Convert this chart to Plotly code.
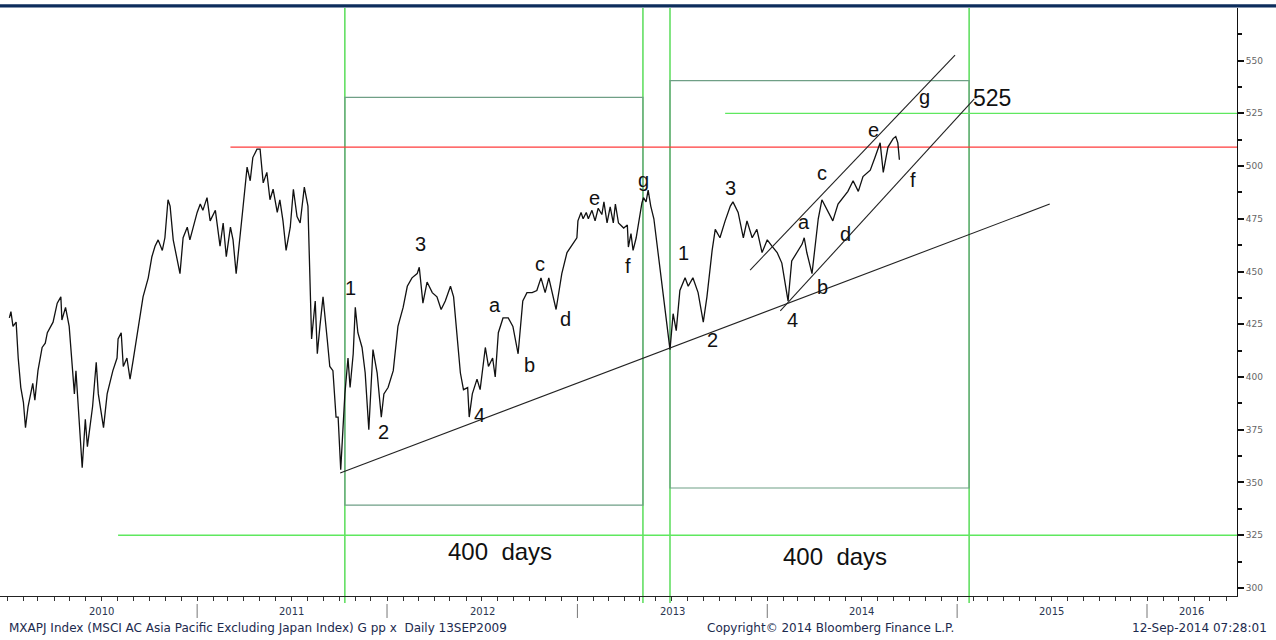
import plotly.graph_objects as go

# ---------------- data ----------------
dates_2010 = ["2010-01-05","2010-01-08","2010-01-12","2010-01-18","2010-01-22","2010-01-27","2010-02-01","2010-02-05","2010-02-10","2010-02-19",
"2010-02-23","2010-03-01","2010-03-09","2010-03-15","2010-03-19","2010-03-30","2010-04-07","2010-04-14","2010-04-16","2010-04-23",
"2010-04-30","2010-05-06","2010-05-10","2010-05-13","2010-05-17","2010-05-25","2010-05-31","2010-06-04","2010-06-14","2010-06-21",
"2010-06-25","2010-07-05","2010-07-12","2010-07-19","2010-07-23","2010-07-31","2010-08-02","2010-08-08","2010-08-12","2010-08-19",
"2010-08-25","2010-08-31","2010-09-07","2010-09-13","2010-09-19","2010-09-29","2010-10-06","2010-10-12","2010-10-18","2010-10-26",
"2010-10-31","2010-11-06","2010-11-10","2010-11-16","2010-11-23","2010-11-29","2010-12-05","2010-12-13","2010-12-18","2010-12-24"]
values_2010 = [428,431,424,426,409,395,388,376,386,397,
389,403,414,416,421,426,435,438,427,433,
424,405,392,403,389,357,380,367,386,407,
392,376,392,399,403,409,418,421,405,409,
399,408,419,430,438,447,457,462,465,460,
466,484,481,465,457,449,466,471,465,471]

dates_2011 = ["2011-01-01","2011-01-07","2011-01-12","2011-01-20","2011-01-26","2011-02-05","2011-02-14","2011-02-20","2011-02-26","2011-03-06",
"2011-03-11","2011-03-17","2011-03-23","2011-03-30","2011-04-07","2011-04-13","2011-04-18","2011-04-26","2011-05-02","2011-05-08",
"2011-05-15","2011-05-21","2011-05-27","2011-06-04","2011-06-09","2011-06-15","2011-06-21","2011-06-29","2011-07-05","2011-07-12",
"2011-07-18","2011-07-26","2011-08-02","2011-08-09","2011-08-16","2011-08-20","2011-08-25","2011-08-31","2011-09-08","2011-09-13",
"2011-09-19","2011-09-25","2011-09-29","2011-10-04","2011-10-12","2011-10-18","2011-10-22","2011-10-28","2011-11-01","2011-11-06",
"2011-11-14","2011-11-20","2011-11-27","2011-12-05","2011-12-13","2011-12-21","2011-12-26"]
values_2011 = [478,482,479,485,474,479,462,473,457,471,
465,449,462,480,499.5,493,504,508,508,492,
497,484,489,478,484,474,460,471,489,476,
473,490,481,418,436,411,424,438,418,405,
403,381,381,356,392,409,395,411,433,421,
414,402,375,413,402,381,392]

dates_2012 = ["2012-01-03","2012-01-13","2012-01-22","2012-02-01","2012-02-09","2012-02-18","2012-02-28","2012-03-03","2012-03-10","2012-03-18",
"2012-03-28","2012-04-06","2012-04-14","2012-04-22","2012-05-02","2012-05-08","2012-05-15","2012-05-21","2012-05-27","2012-06-04",
"2012-06-07","2012-06-13","2012-06-22","2012-06-28","2012-07-08","2012-07-14","2012-07-22","2012-07-27","2012-08-02","2012-08-11",
"2012-08-21","2012-08-30","2012-09-09","2012-09-18","2012-09-26","2012-10-06","2012-10-15","2012-10-23","2012-10-31","2012-11-07",
"2012-11-21","2012-12-02","2012-12-12","2012-12-22","2012-12-31"]
values_2012 = [395,403,424,433,443,447,449,452,435,445,
440,438,432,436,443,438,418,402,394,395,
381,392,399,394,414,405,409,400,421,428,
428,424,411,436,440,440,441,447,440,447,
432,449,459,463,466]

dates_2013 = ["2013-01-02","2013-01-08","2013-01-12","2013-01-18","2013-01-22","2013-01-29","2013-02-04","2013-02-10","2013-02-17","2013-02-21",
"2013-02-27","2013-03-05","2013-03-11","2013-03-15","2013-03-21","2013-03-31","2013-04-07","2013-04-09","2013-04-14","2013-04-18",
"2013-04-24","2013-04-30","2013-05-05","2013-05-08","2013-05-13","2013-05-17","2013-05-22","2013-05-28","2013-06-05","2013-06-15",
"2013-06-24","2013-06-28","2013-07-04","2013-07-10","2013-07-17","2013-07-27","2013-08-02","2013-08-11","2013-08-21","2013-08-31",
"2013-09-07","2013-09-17","2013-09-23","2013-10-02","2013-10-12","2013-10-22","2013-10-27","2013-11-06","2013-11-16","2013-11-23",
"2013-12-03","2013-12-12","2013-12-22"]
values_2013 = [474,478,475,478,475,479,474,480,477,483,
473,480.6,473,482,473,470.6,472,461.6,468,460,
466,476,482.5,485,483,488.6,481,475,459,440,
421,413,430,422,441,447,443,447,440,426,
438,460,470,466,474,481,483,478,466,474,
466,470,459]

dates_2014 = ["2014-01-01","2014-01-10","2014-01-20","2014-01-29","2014-02-06","2014-02-10","2014-02-17","2014-02-27","2014-03-09","2014-03-13",
"2014-03-18","2014-03-28","2014-04-03","2014-04-09","2014-04-16","2014-04-26","2014-05-07","2014-05-17","2014-05-27","2014-06-05",
"2014-06-15","2014-06-25","2014-07-04","2014-07-18","2014-07-27","2014-08-06","2014-08-12","2014-08-21","2014-08-31","2014-09-05",
"2014-09-09","2014-09-12"]
values_2014 = [465,462,459,454,441,436,455,459,463,466,
459,449,462,475,484,479,474,482,485,488,
493,488,495,498,504,511,497,509,513,514,
511,503]

dates = dates_2010 + dates_2011 + dates_2012 + dates_2013 + dates_2014
values = values_2010 + values_2011 + values_2012 + values_2013 + values_2014

# wave labels
wave_labels = ["1","2","3","4","a","b","c","d","e","f","g",
               "1","2","3","4","a","b","c","d","e","f","g"]
wave_dates = ["2011-10-23","2011-12-26","2012-03-06","2012-06-26","2012-07-27","2012-09-30","2012-10-21","2012-12-10","2013-02-02","2013-04-08","2013-05-09",
              "2013-07-23","2013-09-17","2013-10-23","2014-02-19","2014-03-13","2014-04-18","2014-04-16","2014-05-31","2014-07-24","2014-10-08","2014-10-31"]
wave_levels = [442,374,463,382,434,405.7,453.6,427.5,484.8,452.6,493.4,
               458.8,417.5,489.6,427,473.5,442.7,496.7,467.8,517,493.4,532.7]

# trend lines
trend_x0 = ["2011-10-03","2013-11-29","2014-01-26"]
trend_y0 = [354.5,450.7,431.3]
trend_x1 = ["2015-06-28","2014-12-28","2015-02-03"]
trend_y1 = [482.0,552.6,531.8]

# 400-day windows
cycle_start = ["2011-10-12","2013-06-28"]
cycle_end = ["2013-05-07","2015-01-24"]
box_low = [339.3,347.4]
box_high = [532.5,540.5]
cycle_text_dates = ["2012-08-05","2014-05-11"]
cycle_text_levels = [317.5,314.7]

# horizontal levels
red_level = 509
red_start = "2011-03-06"
green_levels = [525,325]
green_starts = ["2013-10-12","2010-08-02"]

year_labels = ["2010","2011","2012","2013","2014","2015","2016"]
year_label_dates = ["2010-07-02","2011-07-02","2012-07-02","2013-07-02","2014-07-02","2015-07-02","2016-03-27"]
year_starts = ["2011-01-01","2012-01-01","2013-01-01","2014-01-01","2015-01-01","2016-01-01"]

x_range = ["2009-12-18","2016-06-22"]
y_range = [296.2,574.9]
y_ticks = [300,325,350,375,400,425,450,475,500,525,550]

# ---------------- figure ----------------
fig = go.Figure()
fig.add_trace(go.Scatter(x=dates, y=values, mode="lines",
                         line=dict(color="#111111", width=1.3), hoverinfo="skip",
                         showlegend=False))

shapes = []
GREEN_V = "#2fd42f"
GREEN_H = "#5fe85f"
BOX = "#6f9f86"

shapes.append(dict(type="rect", xref="paper", yref="paper", x0=-0.01, x1=1.04, y0=1.0009, y1=1.0062,
                   fillcolor="#0d2d5c", line=dict(width=0), layer="above"))

for xs, xe, lo, hi in zip(cycle_start, cycle_end, box_low, box_high):
    shapes.append(dict(type="rect", xref="x", yref="y", x0=xs, x1=xe, y0=lo, y1=hi,
                       line=dict(color=BOX, width=1.2), layer="below"))

for d in cycle_start + cycle_end:
    shapes.append(dict(type="line", xref="x", yref="paper", x0=d, x1=d, y0=-0.012, y1=1,
                       line=dict(color=GREEN_V, width=1.2), layer="below"))

shapes.append(dict(type="line", xref="x", yref="y", x0=red_start, x1=x_range[1], y0=red_level, y1=red_level,
                   line=dict(color="#ff3b3b", width=1.2), layer="below"))
for lvl, st in zip(green_levels, green_starts):
    shapes.append(dict(type="line", xref="x", yref="y", x0=st, x1=x_range[1], y0=lvl, y1=lvl,
                       line=dict(color=GREEN_H, width=1.3), layer="below"))

for a, b, c, d in zip(trend_x0, trend_y0, trend_x1, trend_y1):
    shapes.append(dict(type="line", xref="x", yref="y", x0=a, y0=b, x1=c, y1=d,
                       line=dict(color="#222222", width=1.1)))

for d in year_starts:
    shapes.append(dict(type="line", xref="x", yref="paper", x0=d, x1=d, y0=-0.0136, y1=-0.0374,
                       line=dict(color="#777777", width=1)))

annotations = []
for t, d, v in zip(wave_labels, wave_dates, wave_levels):
    annotations.append(dict(x=d, y=v, xref="x", yref="y", text=t, showarrow=False,
                            font=dict(family="Liberation Sans, Arial", size=20, color="#111111")))
annotations.append(dict(x="2015-03-09", y=532.2, xref="x", yref="y", text="525", showarrow=False,
                        font=dict(family="Liberation Sans, Arial", size=23, color="#111111")))
for d, v in zip(cycle_text_dates, cycle_text_levels):
    annotations.append(dict(x=d, y=v, xref="x", yref="y", text="400&nbsp; days", showarrow=False,
                            font=dict(family="Liberation Sans, Arial", size=24, color="#111111")))
for t, d in zip(year_labels, year_label_dates):
    annotations.append(dict(x=d, y=-0.0272, xref="x", yref="paper", text=t, showarrow=False,
                            yanchor="middle", font=dict(family="DejaVu Sans", size=10, color="#2a3550")))

foot_font = dict(family="DejaVu Sans", size=12, color="#1c2a4e")
annotations.append(dict(x=0.006, y=-0.0544, xref="paper", yref="paper", xanchor="left", yanchor="middle",
                        text="MXAPJ Index (MSCI AC Asia Pacific Excluding Japan Index) G pp x  Daily 13SEP2009",
                        showarrow=False, font=foot_font))
annotations.append(dict(x=0.671, y=-0.0544, xref="paper", yref="paper", xanchor="center", yanchor="middle",
                        text="Copyright© 2014 Bloomberg Finance L.P.", showarrow=False, font=foot_font))
annotations.append(dict(x=1.026, y=-0.0544, xref="paper", yref="paper", xanchor="right", yanchor="middle",
                        text="12-Sep-2014 07:28:01", showarrow=False, font=foot_font))

fig.update_layout(
    width=1276, height=640, autosize=False,
    margin=dict(l=0, r=39, t=8, b=44),
    paper_bgcolor="white", plot_bgcolor="white",
    shapes=shapes, annotations=annotations, showlegend=False,
    xaxis=dict(type="date", range=x_range, showgrid=False, zeroline=False,
               showline=True, linecolor="#222222", linewidth=1,
               ticks="outside", tick0="2010-01-01", dtick="M1", ticklen=4, tickcolor="#333333",
               showticklabels=False, fixedrange=True),
    yaxis=dict(side="right", range=y_range, showgrid=False, zeroline=False,
               showline=True, linecolor="#111111", linewidth=1,
               tickvals=y_ticks, ticks="outside", ticklen=6, tickwidth=2, tickcolor="#111111",
               tickfont=dict(family="DejaVu Sans", size=9, color="#666666"),
               minor=dict(tick0=300, dtick=12.5, ticks="outside", ticklen=4, tickcolor="#111111"),
               fixedrange=True),
)

fig.write_html("out.html", config={"displayModeBar": False},
               post_script="document.body.style.margin='0';document.body.style.overflow='hidden';")
